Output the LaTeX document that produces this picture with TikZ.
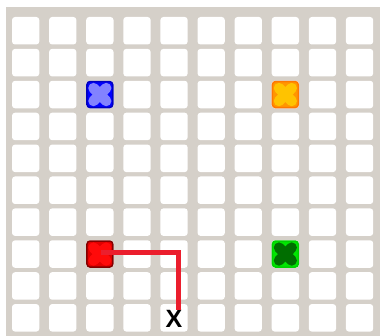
\documentclass[tikz,border=0pt]{standalone}
\usepackage{fontspec}
\setsansfont{Liberation Sans}
\definecolor{bg}{RGB}{213,208,201}
\definecolor{bluebd}{RGB}{0,0,190}
\definecolor{bluefl}{RGB}{0,0,255}
\definecolor{bluein}{RGB}{130,130,255}
\definecolor{orbd}{RGB}{255,120,0}
\definecolor{orfl}{RGB}{255,150,0}
\definecolor{orin}{RGB}{255,195,0}
\definecolor{redbd}{RGB}{130,0,0}
\definecolor{redfl}{RGB}{225,0,0}
\definecolor{redin}{RGB}{255,10,10}
\definecolor{grbd}{RGB}{0,210,0}
\definecolor{grfl}{RGB}{0,230,0}
\definecolor{grin}{RGB}{0,110,0}
\definecolor{pathred}{RGB}{235,30,45}
\tikzset{
  cellbox/.style={fill=white, rounded corners=3pt},
  marker/.style={draw, line width=1.5pt, rounded corners=3pt, inner sep=0pt,
    minimum width=25.8pt, minimum height=26pt},
  crossline/.style={line width=10.5pt, line cap=round},
  route/.style={draw=pathred, line width=5pt},
  lbl/.style={font=\sffamily\bfseries\fontsize{25}{25}\selectfont, inner sep=0pt, text=black}
}
\newcommand\drawcross[2]{%
  \draw[crossline,#2] ([shift={(7.3,7.3)}]#1.north west) -- ([shift={(-7.3,-7.3)}]#1.south east);
  \draw[crossline,#2] ([shift={(-7.3,7.3)}]#1.north east) -- ([shift={(7.3,-7.3)}]#1.south west);
}
\begin{document}
\begin{tikzpicture}[x=1pt,y=-1pt]
\useasboundingbox (0,0) rectangle (380,336);
\fill[bg] (6,7) rectangle (380,336);
\foreach \i in {0,...,9}{
  \foreach \j in {0,...,9}{
    \fill[cellbox] ({12+37.1*\i},{17+31.9*\j}) rectangle ++(27.3,27.5);
  }
}
% markers
\node[marker, draw=bluebd, fill=bluefl] (blue) at ({12+37.1*2+13.65},{17+31.9*2+13.75}) {};
\node[marker, draw=orbd, fill=orfl] (orange) at ({12+37.1*7+13.65},{17+31.9*2+13.75}) {};
\node[marker, draw=redbd, fill=redfl] (red) at ({12+37.1*2+13.65},{17+31.9*7+13.75}) {};
\node[marker, draw=grbd, fill=grfl] (green) at ({12+37.1*7+13.65},{17+31.9*7+13.75}) {};
\drawcross{blue}{bluein}
\drawcross{orange}{orin}
\drawcross{red}{redin}
\drawcross{green}{grin}
% label
\node[lbl] (xlab) at ({12+37.1*4+13.65},318.5) {X};
\coordinate (bend) at (178,252.5);
\draw[route] ([xshift=1pt]red.center |- bend) -- (bend) -- (bend |- xlab.north);
\end{tikzpicture}
\end{document}
